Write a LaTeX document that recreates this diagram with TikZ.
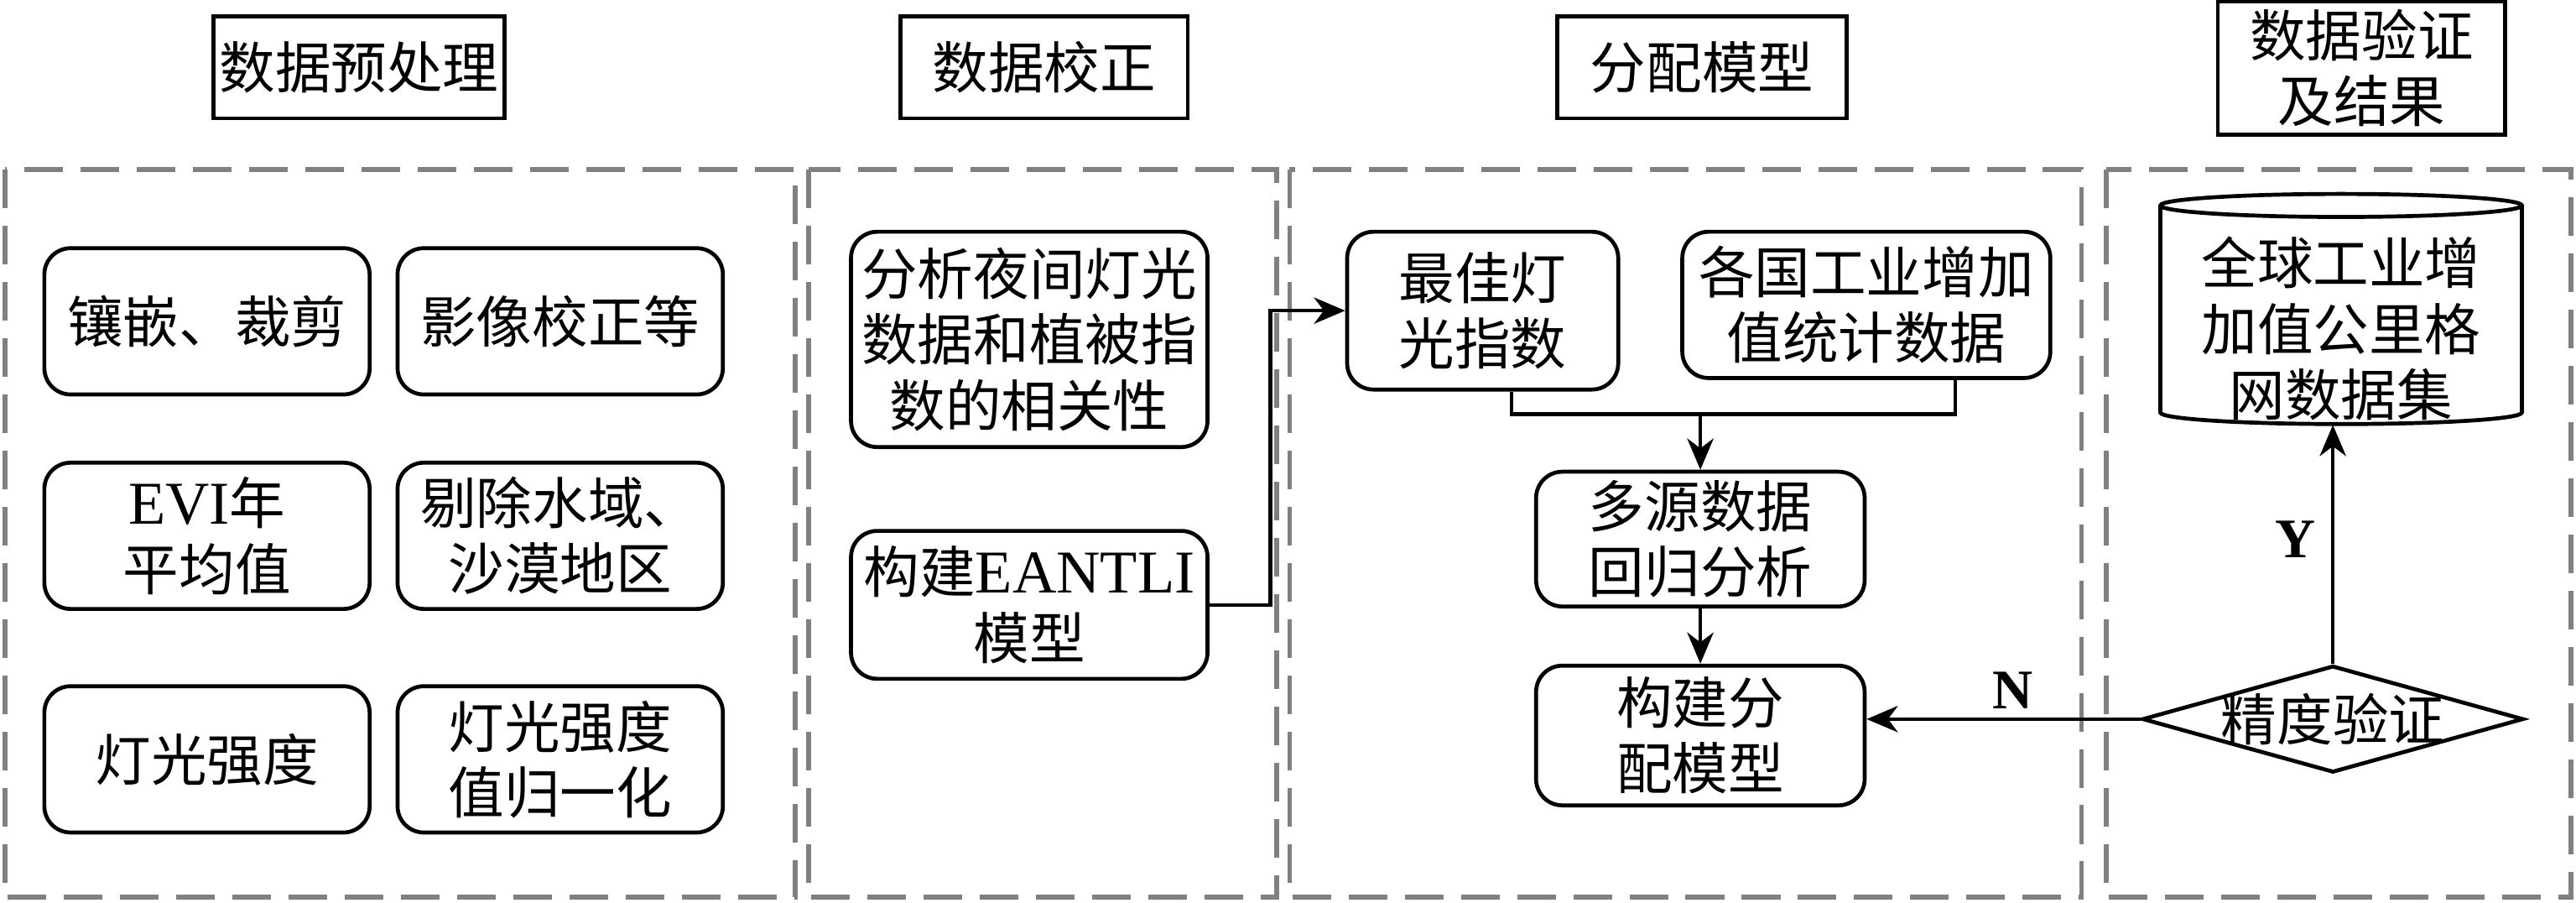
\documentclass[tikz,border=0pt]{standalone}
\usepackage{fontspec}
\setmainfont{Liberation Serif}
\newfontfamily\cjk{Noto Sans CJK SC}
\usetikzlibrary{arrows.meta,shapes.geometric}
\definecolor{pgray}{RGB}{128,128,130}
\newcommand\zf{\cjk\fontsize{17pt}{20pt}\selectfont}
\newcommand\lt[1]{{\rmfamily\fontsize{18.5pt}{20pt}\selectfont #1}}
\tikzset{
 box/.style={draw, line width=1.2pt, rounded corners=8pt, align=center, inner sep=0pt, font=\zf},
 ttl/.style={draw, line width=1.2pt, align=center, inner sep=0pt, font=\zf},
 panel/.style={draw=pgray, line width=1.5pt, dash pattern=on 11.75pt off 5.35pt},
 conn/.style={line width=1.1pt},
 arr/.style={conn, -{Stealth[length=9.5pt,width=8pt,inset=3pt]}},
 lab/.style={font=\rmfamily\bfseries\fontsize{17pt}{19pt}\selectfont, inner sep=0pt},
}
\begin{document}
\begin{tikzpicture}[x=0.5pt,y=-0.5pt]
\useasboundingbox (0,0) rectangle (1568,549);
% panels
\draw[panel] (3,103) rectangle (484,546);
\draw[panel] (492,103) rectangle (777,546);
\draw[panel] (785,103) rectangle (1267,546);
\draw[panel] (1282,103) rectangle (1565,546);
% titles
\node[ttl, minimum width=88.5pt, minimum height=31pt] (t1) at (218.5,41) {数据预处理};
\node[ttl, minimum width=87.5pt, minimum height=31pt] (t2) at (635.5,41) {数据校正};
\node[ttl, minimum width=88pt, minimum height=31pt] (t3) at (1036,41) {分配模型};
\node[ttl, minimum width=87.5pt, minimum height=40.5pt] (t4) at (1437.5,41.5) {数据验证\\及结果};
% panel 1
\node[box, minimum width=99pt, minimum height=44.5pt] (a1) at (126,195.5) {镶嵌、裁剪};
\node[box, minimum width=99pt, minimum height=44.5pt] (a2) at (341,195.5) {影像校正等};
\node[box, minimum width=99pt, minimum height=44.5pt] (a3) at (126,326) {\lt{EVI}年\\平均值};
\node[box, minimum width=99pt, minimum height=44.5pt] (a4) at (341,326) {剔除水域、\\沙漠地区};
\node[box, minimum width=99pt, minimum height=44.5pt] (a5) at (126,462) {灯光强度};
\node[box, minimum width=99pt, minimum height=44.5pt] (a6) at (341,462) {灯光强度\\值归一化};
% panel 2
\node[box, minimum width=108.5pt, minimum height=65.5pt] (b1) at (626.5,206.5) {分析夜间灯光\\数据和植被指\\数的相关性};
\node[box, minimum width=108.5pt, minimum height=45pt] (b2) at (626.5,368) {构建\lt{EANTLI}\\模型};
% panel 3
\node[box, minimum width=82.5pt, minimum height=48pt] (c1) at (902.5,189) {最佳灯\\光指数};
\node[box, minimum width=112pt, minimum height=44.5pt] (c2) at (1136,185.5) {各国工业增加\\值统计数据};
\node[box, minimum width=100pt, minimum height=41pt] (c3) at (1035,328) {多源数据\\回归分析};
\node[box, minimum width=100pt, minimum height=42.5pt] (c4) at (1035,447.5) {构建分\\配模型};
% panel 4
\draw[line width=1.2pt] (1425,125) ellipse [x radius=55pt, y radius=3.5pt];
\draw[line width=1.2pt] (1315,125) -- (1315,251) arc[start angle=180, end angle=360, x radius=55pt, y radius=3.5pt] -- (1535,125);
\node[align=center, font=\zf, inner sep=0pt] (d1) at (1425,200) {全球工业增\\加值公里格\\网数据集};
\coordinate (d1b) at (1425,258.5);
\node[draw, diamond, line width=1.2pt, aspect=3.5, inner sep=0pt, minimum width=116pt, minimum height=32.5pt, font=\zf] (d2) at (1420,437.5) {\makebox[0pt]{精度验证}};
% connectors
\draw[arr] (b2.east) -- ++(37,0) |- (c1.west);
\coordinate (j) at (1035,252);
\draw[conn] ([xshift=8.75pt]c1.south) |- (j);
\draw[conn] ([xshift=27pt]c2.south) |- (j);
\draw[arr] (j) -- (c3.north);
\draw[arr] (c3.south) -- (c4.north);
\draw[arr] (d2.north) -- (d2.north |- d1b);
\draw[arr] (d2.west) -- (d2.west -| c4.east);
\node[lab] (ly) at (1397,328) {Y};
\node[lab] (ln) at (1225,420) {N};
\end{tikzpicture}
\end{document}
